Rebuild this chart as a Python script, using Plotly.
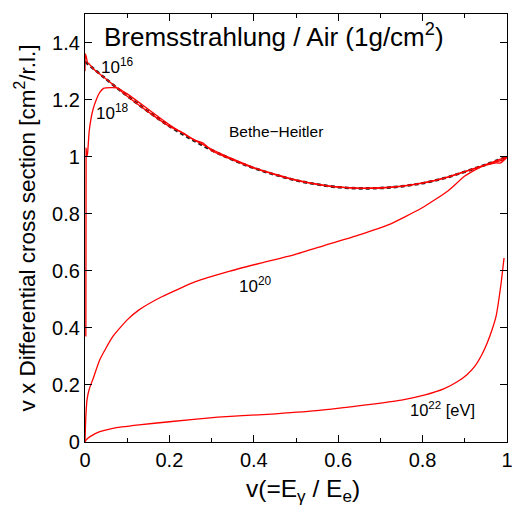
import plotly.graph_objects as go

# Bethe-Heitler (dashed black)
v_bh = [0, 0.05, 0.1, 0.15, 0.2, 0.25, 0.3, 0.35, 0.4, 0.45, 0.5, 0.55, 0.6, 0.65, 0.7, 0.75, 0.8, 0.85, 0.9, 0.95, 1.0]
y_bh = [1.333, 1.272, 1.213, 1.158, 1.107, 1.063, 1.023, 0.989, 0.960, 0.937, 0.917, 0.903, 0.893, 0.889, 0.890, 0.896, 0.907, 0.924, 0.947, 0.972, 1.000]

# E = 1e16 eV
v_16 = [0, 0.001, 0.003, 0.006, 0.01, 0.02, 0.05, 0.1, 0.15, 0.2, 0.23, 0.26, 0.28, 0.3, 0.35, 0.4, 0.45, 0.5, 0.55, 0.6, 0.65, 0.7, 0.75, 0.8, 0.85, 0.9, 0.95, 0.975, 0.985, 1.0]
y_16 = [1.30, 1.36, 1.35, 1.33, 1.325, 1.307, 1.272, 1.212, 1.157, 1.106, 1.085, 1.058, 1.048, 1.021, 0.989, 0.960, 0.937, 0.917, 0.903, 0.893, 0.889, 0.890, 0.896, 0.907, 0.924, 0.947, 0.970, 0.978, 0.978, 0.998]

# E = 1e18 eV
v_18 = [0.002, 0.0026, 0.004, 0.006, 0.01, 0.018, 0.027, 0.035, 0.045, 0.06, 0.075, 0.1, 0.15, 0.2, 0.25, 0.27, 0.3, 0.35, 0.4, 0.45, 0.5, 0.55, 0.6, 0.65, 0.7, 0.75, 0.8, 0.85, 0.9, 0.95, 0.975, 0.99, 1.0]
y_18 = [0.37, 1.03, 1.00, 1.01, 1.09, 1.16, 1.20, 1.225, 1.240, 1.242, 1.241, 1.220, 1.166, 1.112, 1.066, 1.050, 1.026, 0.992, 0.962, 0.939, 0.919, 0.904, 0.894, 0.890, 0.891, 0.897, 0.908, 0.925, 0.948, 0.972, 0.983, 0.988, 1.000]

# E = 1e20 eV
v_20 = [0, 0.002, 0.005, 0.01, 0.02, 0.035, 0.066, 0.1, 0.128, 0.182, 0.262, 0.339, 0.416, 0.495, 0.572, 0.65, 0.72, 0.798, 0.86, 0.9, 0.93, 0.95, 0.975, 1.0]
y_20 = [0.0, 0.09, 0.15, 0.185, 0.225, 0.288, 0.37, 0.428, 0.463, 0.509, 0.562, 0.597, 0.627, 0.656, 0.691, 0.726, 0.762, 0.820, 0.880, 0.932, 0.958, 0.972, 0.986, 1.0]

# E = 1e22 eV
v_22 = [0, 0.003, 0.012, 0.035, 0.066, 0.128, 0.2, 0.315, 0.432, 0.549, 0.666, 0.75, 0.806, 0.85, 0.883, 0.905, 0.923, 0.94, 0.953, 0.965, 0.974, 0.985, 0.993]
y_22 = [0.0, 0.008, 0.019, 0.036, 0.048, 0.060, 0.071, 0.087, 0.097, 0.110, 0.130, 0.147, 0.165, 0.186, 0.212, 0.236, 0.264, 0.305, 0.347, 0.395, 0.440, 0.545, 0.645]

x_ticks = [0, 0.2, 0.4, 0.6, 0.8, 1]
x_labels = ["0", "0.2", "0.4", "0.6", "0.8", "1"]
y_ticks = [0, 0.2, 0.4, 0.6, 0.8, 1, 1.2, 1.4]
y_labels = ["0", "0.2", "0.4", "0.6", "0.8", "1", "1.2", "1.4"]

FONT = "Liberation Sans, Arial, sans-serif"
RED = "#ff0000"

fig = go.Figure()
fig.add_trace(go.Scatter(x=v_bh, y=y_bh, mode="lines", line=dict(color="#222222", width=2.6, dash="4px,3px", shape="spline")))
for vx, vy in [(v_16, y_16), (v_18, y_18), (v_20, y_20), (v_22, y_22)]:
    fig.add_trace(go.Scatter(x=vx, y=vy, mode="lines", line=dict(color=RED, width=1.3, shape="spline", smoothing=0.5)))

annos = [
    (0.077, 1.318, "10<sup>16</sup>", 17),
    (0.066, 1.155, "10<sup>18</sup>", 17),
    (0.452, 1.088, "Bethe\u2212Heitler", 15.5),
    (0.404, 0.552, "10<sup>20</sup>", 17),
    (0.848, 0.114, "10<sup>22</sup> [eV]", 16.5),
]
for ax_, ay_, t, s in annos:
    fig.add_annotation(x=ax_, y=ay_, text=t, showarrow=False, xanchor="center", yanchor="middle",
                       font=dict(family=FONT, size=s, color="black"))

fig.add_annotation(x=0.447, y=1.425, text="Bremsstrahlung / Air (1g/cm<sup>2</sup>)", showarrow=False,
                   xanchor="center", yanchor="middle", font=dict(family=FONT, size=26, color="black"))

# x-axis title as annotation for exact placement
fig.add_annotation(xref="paper", yref="paper", x=0.517, y=-0.113, text="v(=E<sub>\u03b3</sub> / E<sub>e</sub>)",
                   showarrow=False, xanchor="center", yanchor="middle",
                   font=dict(family=FONT, size=24.5, color="black"))

axis_common = dict(showline=True, linecolor="black", linewidth=1.3, mirror="ticks", ticks="inside",
                   ticklen=7, tickwidth=1.2, tickcolor="black", showgrid=False, zeroline=False,
                   ticklabeloverflow="allow",
                   tickfont=dict(family=FONT, size=20, color="black"))

fig.update_layout(
    width=518, height=513, margin=dict(l=85, r=5, t=14, b=71),
    paper_bgcolor="white", plot_bgcolor="white", showlegend=False,
    xaxis=dict(range=[0, 1], tickvals=x_ticks, ticktext=x_labels,
               minor=dict(dtick=0.1, ticks="inside", ticklen=4, tickcolor="black", tickwidth=1.2),
               **axis_common),
    yaxis=dict(range=[0, 1.5], tickvals=y_ticks, ticktext=y_labels,
               title=dict(text="v x Differential cross section [cm<sup>2</sup>/r.l.]", font=dict(family=FONT, size=22.5, color="black"), standoff=10),
               **axis_common),
)

fig.write_html("out.html")
